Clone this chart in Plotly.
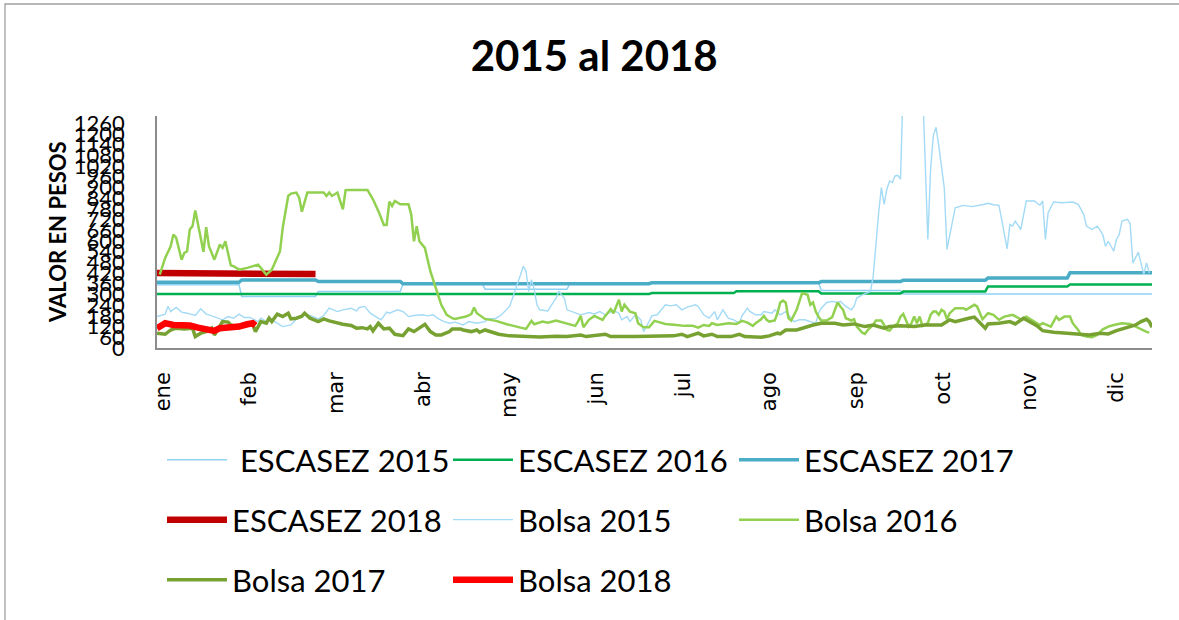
import numpy as np
import plotly.graph_objects as go

# --- Datos -----------------------------------------------------------------
meses = ["ene", "feb", "mar", "abr", "may", "jun", "jul", "ago", "sep", "oct", "nov", "dic"]
dias_mes = [31, 28, 31, 30, 31, 30, 31, 31, 30, 31, 30, 31]

# Precio de escasez mensual ($/kWh)
escasez_2015 = [355, 289, 317, 360, 329, 362, 367, 367, 322, 303, 303, 303]
escasez_2016 = [302, 302, 302, 302, 302, 302, 308, 318, 305, 316, 345, 356]
escasez_2017 = [368, 381, 373, 360, 360, 360, 365, 365, 372, 380, 392, 421]
escasez_2018 = [420, 414]

# Precio de bolsa (día del año, valor)
bolsa_2015_dia = [1, 4, 5, 6, 8, 10, 12, 15, 17, 19, 20, 22, 25, 27, 29, 31, 33, 35, 38, 39,
                  41, 43, 45, 47, 50, 52, 55, 57, 60, 62, 64, 67, 69, 72, 74, 75, 77, 79, 81, 83,
                  85, 86, 89, 91, 93, 95, 98, 100, 102, 104, 106, 108, 110, 113, 115, 118, 121, 122, 125, 127,
                  130, 132, 134, 135, 136, 137, 138, 139, 140, 141, 144, 145, 147, 148, 150, 151, 154, 156, 159, 161,
                  163, 165, 168, 170, 171, 173, 174, 176, 178, 179, 181, 182, 184, 185, 187, 189, 191, 193, 195, 198,
                  199, 201, 203, 205, 206, 208, 210, 212, 214, 215, 217, 218, 220, 222, 223, 226, 227, 229, 231, 232,
                  234, 236, 238, 240, 242, 243, 244, 246, 248, 250, 251, 253, 255, 256, 257, 259, 261, 262, 263, 264,
                  265, 266, 267, 268, 269, 270, 271, 272, 273, 274, 281, 283, 284, 285, 286, 287, 288, 289, 290, 292,
                  293, 296, 299, 303, 305, 307, 309, 310, 312, 313, 314, 315, 317, 319, 322, 324, 325, 326, 327, 329,
                  332, 336, 338, 340, 341, 343, 345, 347, 348, 349, 351, 352, 353, 354, 356, 357, 358, 360, 362, 363,
                  364]
bolsa_2015 = [176, 190, 233, 204, 227, 201, 195, 182, 220, 190, 186, 176, 158, 176, 167, 190, 171, 171, 148, 167,
              148, 158, 139, 120, 129, 163, 186, 182, 163, 182, 223, 204, 214, 223, 208, 227, 233, 195, 176, 158,
              201, 195, 214, 204, 176, 182, 186, 180, 186, 163, 148, 139, 145, 129, 148, 139, 148, 163, 167, 186,
              233, 317, 411, 458, 430, 317, 383, 327, 242, 214, 208, 233, 280, 317, 280, 214, 199, 186, 199, 191,
              204, 186, 210, 195, 158, 176, 148, 186, 158, 92, 148, 180, 186, 204, 242, 236, 242, 214, 229, 242,
              233, 186, 167, 204, 158, 214, 167, 158, 139, 180, 223, 204, 186, 186, 204, 195, 214, 186, 204, 186,
              148, 158, 158, 148, 139, 195, 223, 255, 261, 255, 261, 233, 214, 233, 280, 298, 308, 317, 400, 589,
              758, 899, 805, 890, 936, 927, 964, 968, 946, 1500, 1500, 608, 1000, 1190, 1237, 1133, 1012, 899, 552, 721,
              786, 799, 792, 803, 811, 803, 799, 721, 556, 692, 683, 711, 664, 824, 824, 800, 824, 608, 758, 818,
              814, 818, 805, 749, 683, 664, 683, 636, 570, 598, 542, 608, 636, 711, 721, 698, 477, 537, 411, 477,
              420]

bolsa_2016_dia = [2, 4, 6, 7, 8, 10, 11, 12, 13, 14, 15, 16, 18, 19, 20, 22, 24, 25, 26, 28,
                  29, 31, 34, 38, 41, 43, 46, 47, 49, 50, 52, 53, 54, 56, 62, 63, 64, 65, 67, 69,
                  70, 71, 78, 80, 82, 84, 85, 86, 87, 88, 90, 93, 94, 95, 96, 97, 99, 101, 103, 105,
                  107, 109, 110, 114, 116, 117, 118, 121, 125, 129, 134, 136, 138, 139, 142, 144, 147, 151, 153, 154,
                  155, 156, 157, 159, 161, 164, 165, 167, 168, 169, 170, 171, 172, 174, 176, 177, 179, 181, 183, 184,
                  187, 191, 194, 197, 199, 201, 203, 204, 206, 210, 213, 215, 217, 219, 220, 222, 223, 224, 225, 227,
                  228, 229, 230, 231, 232, 233, 235, 236, 237, 239, 240, 241, 242, 243, 244, 246, 248, 249, 250, 251,
                  252, 253, 255, 256, 257, 259, 260, 261, 263, 264, 266, 267, 268, 269, 270, 272, 273, 274, 275, 276,
                  277, 278, 279, 280, 281, 283, 284, 285, 286, 287, 288, 289, 290, 291, 293, 296, 297, 300, 301, 303,
                  305, 307, 309, 311, 314, 317, 319, 322, 324, 325, 328, 330, 331, 333, 335, 336, 338, 339, 341, 343,
                  345, 347, 349, 351, 354, 357, 359, 361, 363, 364]
bolsa_2016 = [411, 505, 570, 636, 618, 495, 533, 542, 664, 683, 771, 692, 539, 677, 570, 495, 580, 561, 598, 463,
              458, 439, 449, 467, 411, 439, 542, 674, 852, 865, 871, 843, 764, 871, 871, 852, 871, 852, 871, 777,
              884, 886, 886, 833, 767, 689, 689, 820, 796, 824, 805, 805, 749, 598, 683, 598, 561, 430, 336, 242,
              186, 167, 163, 176, 190, 227, 195, 163, 152, 133, 114, 107, 152, 133, 148, 142, 154, 139, 129, 124,
              148, 180, 116, 158, 180, 158, 180, 218, 195, 233, 270, 204, 242, 204, 195, 139, 116, 116, 152, 148,
              135, 129, 124, 124, 114, 129, 124, 139, 129, 139, 135, 152, 142, 124, 139, 161, 180, 158, 148, 154,
              195, 255, 266, 255, 167, 154, 214, 261, 308, 298, 242, 255, 204, 176, 154, 154, 173, 214, 255, 233,
              214, 167, 154, 161, 120, 86, 79, 101, 129, 154, 154, 129, 101, 97, 116, 139, 176, 191, 158, 120,
              139, 176, 139, 176, 124, 139, 186, 204, 204, 186, 214, 204, 161, 195, 223, 223, 214, 242, 233, 161,
              195, 186, 158, 176, 186, 161, 176, 148, 129, 139, 120, 176, 158, 176, 176, 139, 101, 73, 64, 60,
              73, 105, 120, 129, 139, 135, 120, 101, 90, 86]

bolsa_2017_dia = [1, 4, 6, 8, 11, 14, 15, 17, 19, 21, 22, 24, 25, 27, 28, 31, 33, 36, 37, 39,
                  41, 42, 43, 45, 47, 49, 50, 52, 54, 55, 57, 60, 62, 64, 67, 69, 72, 74, 76, 78,
                  79, 80, 82, 84, 86, 88, 91, 93, 95, 97, 99, 101, 103, 105, 108, 109, 112, 113, 116, 118,
                  119, 121, 124, 126, 130, 135, 141, 147, 151, 156, 158, 165, 167, 176, 182, 190, 193, 195, 199, 201,
                  204, 206, 211, 214, 216, 219, 222, 225, 228, 229, 231, 235, 238, 241, 244, 249, 252, 256, 260, 263,
                  267, 269, 273, 278, 282, 285, 288, 289, 291, 293, 296, 298, 300, 302, 304, 305, 309, 313, 315, 318,
                  320, 323, 325, 329, 334, 338, 342, 346, 349, 352, 355, 359, 361, 363, 364, 365]
bolsa_2017 = [83, 77, 101, 111, 107, 111, 64, 83, 92, 111, 73, 120, 148, 145, 129, 114, 126, 133, 92, 148,
              139, 167, 148, 190, 176, 195, 163, 167, 178, 195, 167, 148, 163, 152, 139, 133, 126, 111, 114, 107,
              120, 96, 139, 107, 111, 77, 69, 107, 92, 114, 133, 92, 73, 73, 92, 107, 107, 101, 92, 101,
              88, 101, 88, 77, 68, 64, 62, 66, 64, 73, 64, 77, 64, 64, 64, 68, 77, 64, 83, 68,
              77, 64, 64, 77, 64, 64, 60, 68, 83, 79, 101, 101, 116, 129, 139, 139, 129, 135, 120, 129,
              111, 120, 124, 120, 129, 129, 129, 139, 158, 148, 161, 167, 173, 139, 111, 135, 139, 148, 135, 167,
              148, 124, 97, 88, 83, 79, 73, 83, 79, 97, 111, 129, 148, 161, 148, 116]

bolsa_2018_dia = [1, 3, 4, 7, 11, 13, 16, 18, 20, 22, 24, 27, 29, 31, 34, 36, 37]
bolsa_2018 = [111, 133, 139, 129, 133, 126, 114, 111, 107, 96, 111, 111, 114, 120, 133, 139, 126]

# --- Series diarias de escasez (valor constante dentro de cada mes) ---------
def por_dia(mensual):
    valores = np.repeat(mensual, dias_mes[:len(mensual)])
    return np.arange(1, len(valores) + 1), valores


# --- Geometría de la figura -------------------------------------------------
W, H = 1179, 620
M_L, M_R, M_T, M_B = 157, 27, 116, 272
PLOT_W, PLOT_H = W - M_L - M_R, H - M_T - M_B


def px_x(px):
    return (px - M_L) / PLOT_W


def px_y(py):
    return (H - M_B - py) / PLOT_H


series = [
    ("\u00a0ESCASEZ 2015", *por_dia(escasez_2015), "#8FD2F4", 1.5, "legend"),
    ("ESCASEZ 2016", *por_dia(escasez_2016), "#00B050", 2.5, "legend"),
    ("ESCASEZ 2017", *por_dia(escasez_2017), "#4BACC6", 3.5, "legend"),
    ("ESCASEZ 2018", *por_dia(escasez_2018), "#C00000", 6.5, "legend2"),
    ("Bolsa 2015", bolsa_2015_dia, bolsa_2015, "#A3DAF6", 1.4, "legend2"),
    ("Bolsa 2016", bolsa_2016_dia, bolsa_2016, "#92D050", 2.5, "legend2"),
    ("Bolsa 2017", bolsa_2017_dia, bolsa_2017, "#77A232", 3.5, "legend3"),
    ("Bolsa 2018", bolsa_2018_dia, bolsa_2018, "#FF0000", 6.5, "legend3"),
]

fig = go.Figure()
for nombre, x, y, color, ancho, leyenda in series:
    fig.add_trace(go.Scatter(
        x=x, y=y, name=nombre, mode="lines",
        line=dict(color=color, width=ancho),
        legend=leyenda, hoverinfo="skip",
    ))

# posiciones de las etiquetas de mes sobre el eje de días
primer_tick, paso_tick = 3.2, 31.7
tick_meses = [primer_tick + paso_tick * i for i in range(len(meses))]

legend_base = dict(
    orientation="h", xanchor="left", yanchor="middle",
    font=dict(family="Lato", size=31, color="#000000"),
    bgcolor="rgba(0,0,0,0)", itemwidth=60, entrywidth=211,
    traceorder="normal",
)

fig.update_layout(
    width=W, height=H,
    margin=dict(l=M_L, r=M_R, t=M_T, b=M_B, autoexpand=False),
    paper_bgcolor="white", plot_bgcolor="white",
    title=dict(text="<b>2015 al 2018</b>", x=0.504, xanchor="center",
               y=1 - 56 / H, yanchor="middle",
               font=dict(family="Lato", size=42, color="#000000")),
    xaxis=dict(range=[1, 365], tickmode="array", tickvals=tick_meses, ticktext=meses,
               tickangle=-90, showgrid=False, zeroline=False, showline=True,
               linecolor="#8C8C8C", linewidth=1.5, ticks="", ticklabelstandoff=14,
               tickfont=dict(family="DejaVu Sans", size=21, color="#000000")),
    yaxis=dict(range=[0, 1300], tickmode="linear", tick0=0, dtick=60,
               showgrid=False, zeroline=False, showline=True,
               linecolor="#8C8C8C", linewidth=1.5, ticks="", ticklabelstandoff=26,
               tickfont=dict(family="Lato", size=22, color="#000000")),
    legend=dict(legend_base, x=px_x(162), y=px_y(460)),
    legend2=dict(legend_base, x=px_x(162), y=px_y(520)),
    legend3=dict(legend_base, x=px_x(162), y=px_y(580)),
    showlegend=True,
)

fig.add_annotation(
    text="<b>VALOR EN PESOS</b>", textangle=-90, showarrow=False,
    xref="paper", yref="paper", x=px_x(57), y=0.5, xanchor="center", yanchor="middle",
    font=dict(family="Lato", size=22, color="#000000"),
)

# marco del área del gráfico (bordes superior e izquierdo visibles)
fig.add_shape(type="rect", xref="paper", yref="paper",
              x0=px_x(5), x1=px_x(1200), y0=px_y(640), y1=px_y(4),
              line=dict(color="#A0A0A0", width=1.3), fillcolor="rgba(0,0,0,0)", layer="below")

fig.write_html("out.html")
